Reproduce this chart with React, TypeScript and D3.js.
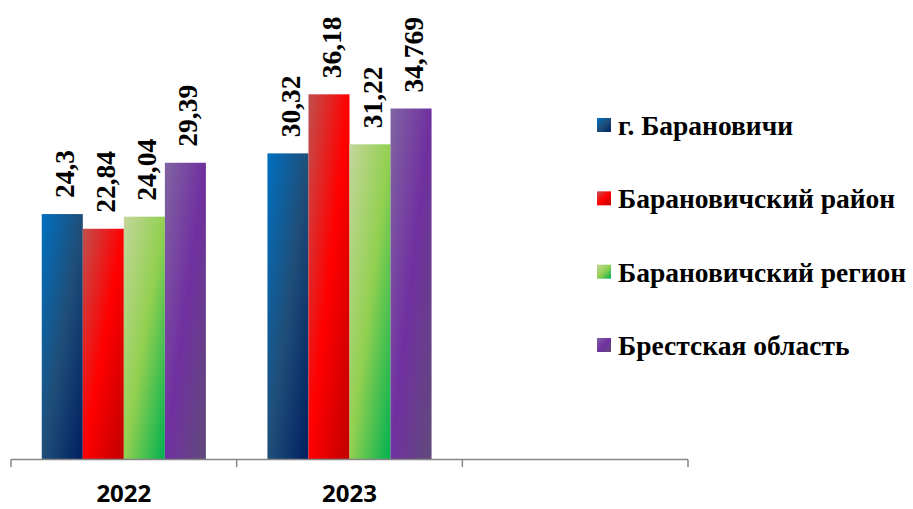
import React from "react";
import * as d3 from "d3";

const categories = ["2022", "2023", ""];
const seriesNames = ["г. Барановичи", "Барановичский район", "Барановичский регион", "Брестская область"];
const values2022 = [24.3, 22.84, 24.04, 29.39];
const values2023 = [30.32, 36.18, 31.22, 34.769];
const valueLabels2022 = ["24,3", "22,84", "24,04", "29,39"];
const valueLabels2023 = ["30,32", "36,18", "31,22", "34,769"];
const gradients = [
  ["#0070C0", "#1F4E79", "#002060"],
  ["#C0504D", "#FF0000", "#C00000"],
  ["#C3D69B", "#92D050", "#00B050"],
  ["#8064A2", "#7030A0", "#604A7B"],
];

const W = 913;
const H = 509;
const SERIF = "Times New Roman, Liberation Serif, Tinos, DejaVu Serif, serif";

export default function App() {
  const x0 = d3.scaleBand<string>().domain(categories).range([11, 688]).paddingInner(0).paddingOuter(0);
  const step = x0.step();
  const barW = step / 5.5;
  const x1 = d3
    .scaleBand<number>()
    .domain([0, 1, 2, 3])
    .range([(step - 4 * barW) / 2, (step + 4 * barW) / 2])
    .padding(0);
  const y = d3.scaleLinear().domain([0, 45]).range([459, 459 - 45 * 10.08]);

  const data = [
    { cat: "2022", vals: values2022, labels: valueLabels2022 },
    { cat: "2023", vals: values2023, labels: valueLabels2023 },
  ];

  const tickXs = [...categories.map((c) => x0(c)!), x0.range()[1]];
  const legendY = d3.scalePoint<number>().domain([0, 1, 2, 3]).range([125, 345]);

  return (
    <svg width={W} height={H} style={{ position: "absolute", left: 0, top: 0, background: "#fff" }}>
      <defs>
        {gradients.map((g, i) => (
          <linearGradient key={i} id={`g${i}`} x1="0" y1="0" x2="1" y2="1">
            <stop offset="0" stopColor={g[0]} />
            <stop offset="0.5" stopColor={g[1]} />
            <stop offset="1" stopColor={g[2]} />
          </linearGradient>
        ))}
      </defs>
      {data.map((d) => (
        <g key={d.cat} transform={`translate(${x0(d.cat)},0)`}>
          {d.vals.map((v, i) => (
            <rect key={i} x={x1(i)} y={y(v)} width={x1.bandwidth()} height={y(0) - y(v)} fill={`url(#g${i})`} />
          ))}
          {d.vals.map((v, i) => {
            const cx = x1(i)! + x1.bandwidth() / 2 + 12;
            const ty = y(v) - 16;
            return (
              <text
                key={`t${i}`}
                transform={`translate(${cx},${ty}) rotate(-90)`}
                style={{ fontFamily: SERIF }}
                fontWeight="bold"
                fontSize={27.5}
                fill="#000"
              >
                {d.labels[i]}
              </text>
            );
          })}
        </g>
      ))}
      <line x1={tickXs[0]} x2={tickXs[tickXs.length - 1]} y1={459.5} y2={459.5} stroke="#868686" strokeWidth={1.5} />
      {tickXs.map((t, i) => (
        <line key={i} x1={t} x2={t} y1={459.5} y2={467} stroke="#868686" strokeWidth={1.5} />
      ))}
      {categories.map((c) => (
        <text
          key={c}
          x={x0(c)! + step / 2}
          y={502}
          textAnchor="middle"
          style={{ fontFamily: "Open Sans, sans-serif" }}
          fontWeight="bold"
          fontSize={24}
          fill="#000"
        >
          {c}
        </text>
      ))}
      {seriesNames.map((s, i) => (
        <g key={s}>
          <rect x={597} y={legendY(i)! - 7} width={14} height={14} fill={`url(#g${i})`} />
          <text
            x={618}
            y={legendY(i)! + 10}
            style={{ fontFamily: SERIF }}
            fontWeight="bold"
            fontSize={27.5}
            fill="#000"
          >
            {s}
          </text>
        </g>
      ))}
    </svg>
  );
}
